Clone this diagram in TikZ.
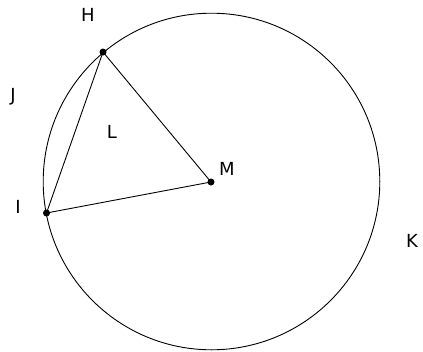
\documentclass[tikz,border=0pt]{standalone}
\usepackage{fontspec}
\setmainfont{DejaVu Sans}
\begin{document}
\begin{tikzpicture}[x=1pt,y=-1pt,
  lbl/.style={anchor=base,inner sep=0pt,font=\fontsize{18}{21}\selectfont},
  pt/.style={circle,fill=black,inner sep=0pt,minimum size=7pt},
  seg/.style={line width=0.9pt,black}]
\useasboundingbox (0,0) rectangle (423,351);
\coordinate (M) at (211.5,181.5);
\draw[seg] (M) circle[radius=168.3];
\node[pt] (h) at (103,52) {};
\node[pt] (i) at (46.5,213) {};
\node[pt] (m) at (211,182) {};
\draw[seg] (h.center) -- (i.center) -- (m.center) -- (h.center);
\node[lbl] (H) at (88,21.5) {H};
\node[lbl] (J) at (13,101) {J};
\node[lbl] (L) at (112,138) {L};
\node[lbl] (Ml) at (227,175) {M};
\node[lbl] (I) at (18,213) {I};
\node[lbl] (K) at (412,247) {K};
\end{tikzpicture}
\end{document}
